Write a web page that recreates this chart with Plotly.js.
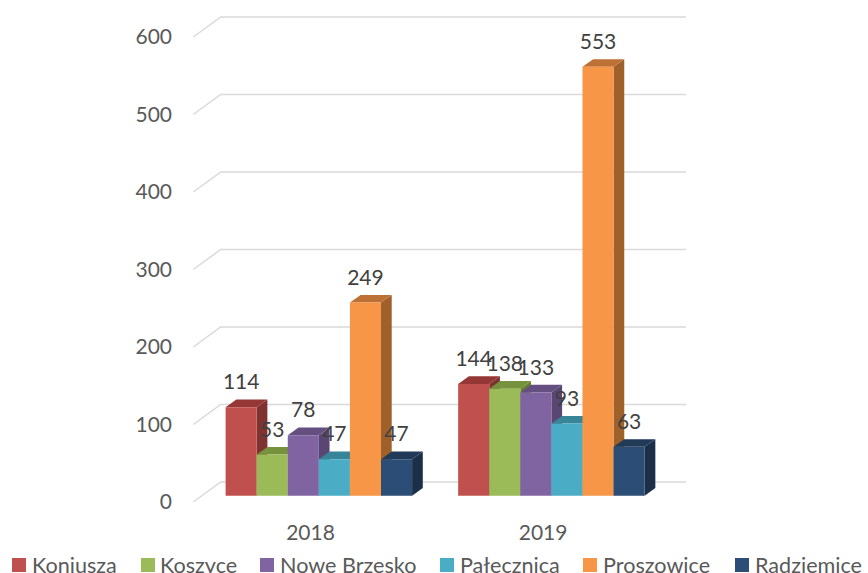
<!DOCTYPE html>
<html><head><meta charset="utf-8">
<script src="https://cdn.plot.ly/plotly-3.0.1.min.js"></script>
<style>html,body{margin:0;padding:0;background:#fff}#c{width:868px;height:573px}</style></head>
<body><div id="c"></div>
<script>
const years = ['2018', '2019'];
const gminy = ['Koniusza', 'Koszyce', 'Nowe Brzesko', 'Pałecznica', 'Proszowice', 'Radziemice'];
const koniusza = [114, 144];
const koszyce = [53, 138];
const noweBrzesko = [78, 133];
const palecznica = [47, 93];
const proszowice = [249, 553];
const radziemice = [47, 63];
const seriesValues = [koniusza, koszyce, noweBrzesko, palecznica, proszowice, radziemice];
const yTicks = [0, 100, 200, 300, 400, 500, 600];
const frontColors = ['#C0504D', '#9BBB59', '#8064A2', '#4BACC6', '#F79646', '#2C4D75'];
const topColors = ['#953735', '#76923C', '#644F80', '#388498', '#BD7134', '#213A58'];
const sideColors = ['#7F3330', '#667F33', '#5A4673', '#2F7286', '#A0602A', '#1B2F48'];
const legendSwatchLeft = [12, 141, 260, 440, 583, 735];
const legendTextLeft = [31, 159, 279, 459, 602, 754];

// plot box in page pixels
const W = 868, H = 573, L = 178, R = 700, T = 0, B = 515;
const FONT = 'Lato', FS = 21, LEGEND_FS = 21.6;
const groupStep = 232.55, x0Px = 318.85;
const unitBar = 0.7755, baseBar = 495.7;    // bar plane
const unitWall = 0.775, baseWall = 502.0;   // front edge of the side wall
const px = v => v / groupStep;
const barW = px(31.08), depthX = px(10.7), depthY = 7.7 / unitBar;
const labelLift = 23.2 / unitBar;
const wallFrontX = px(193.3 - x0Px), wallBackX = px(220.7 - x0Px), wallRightX = px(686 - x0Px);
const wallRise = 20 / unitWall;
const labelShift = px(8.3);
const paperX = p => (p - L) / (R - L);
const paperY = p => (B - p) / (B - T);

const traces = [];
const gx = [], gy = [];
yTicks.forEach(t => { gx.push(wallFrontX, wallBackX, wallRightX, null); gy.push(t, t + wallRise, t + wallRise, null); });
traces.push({type:'scatter', mode:'lines', x:gx, y:gy, xaxis:'x', yaxis:'y', line:{color:'#D9D9D9', width:1.5},
  showlegend:false, hoverinfo:'skip', zorder:0});

seriesValues.forEach((vals, s) => {
  const tx = [], ty = [], sx = [], sy = [];
  vals.forEach((v, c) => {
    const a = c + (s - 3) * barW, b = a + barW;
    tx.push(a, b, b + depthX, a + depthX, a, null);
    ty.push(v, v, v + depthY, v + depthY, v, null);
    sx.push(b, b + depthX, b + depthX, b, b, null);
    sy.push(0, depthY, v + depthY, v, 0, null);
  });
  traces.push({type:'scatter', mode:'lines', x:sx, y:sy, yaxis:'y2', fill:'toself', fillcolor:sideColors[s],
    line:{width:0, color:sideColors[s]}, showlegend:false, hoverinfo:'skip', zorder:1 + s * 2});
  traces.push({type:'scatter', mode:'lines', x:tx, y:ty, yaxis:'y2', fill:'toself', fillcolor:topColors[s],
    line:{width:0, color:topColors[s]}, showlegend:false, hoverinfo:'skip', zorder:1 + s * 2});
  traces.push({type:'bar', name:gminy[s], x:years.map((_, c) => c), y:vals, yaxis:'y2', width:barW, offset:(s - 3) * barW,
    marker:{color:frontColors[s], line:{width:0}}, showlegend:false, zorder:2 + s * 2});
});
const lx = [], ly = [], lt = [];
seriesValues.forEach((vals, s) => vals.forEach((v, c) => {
  lx.push(c + (s - 2.5) * barW); ly.push(v + labelLift); lt.push(String(v));
}));
traces.push({type:'scatter', mode:'text', x:lx, y:ly, text:lt, yaxis:'y2', textposition:'middle center',
  textfont:{family:FONT, size:FS, color:'#404040'}, showlegend:false, hoverinfo:'skip', zorder:50});

const shapes = gminy.map((_, s) => ({type:'rect', xref:'paper', yref:'paper', layer:'above',
  x0:paperX(legendSwatchLeft[s]), x1:paperX(legendSwatchLeft[s] + 14), y0:paperY(572), y1:paperY(558),
  fillcolor:frontColors[s], line:{width:0}}));
const annotations = gminy.map((name, s) => ({xref:'paper', yref:'paper', x:paperX(legendTextLeft[s]), y:paperY(564.5),
  xanchor:'left', yanchor:'middle', showarrow:false, text:name, borderpad:0, font:{family:FONT, size:LEGEND_FS, color:'#595959'}}));

const layout = {
  width:W, height:H, paper_bgcolor:'#fff', plot_bgcolor:'rgba(0,0,0,0)', showlegend:false, barmode:'overlay',
  font:{family:FONT, size:FS, color:'#595959'},
  margin:{l:L, r:W - R, t:T, b:H - B, pad:0},
  shapes, annotations,
  xaxis:{type:'linear', range:[px(L - x0Px), px(R - x0Px)], tickmode:'array', tickvals:years.map((_, c) => c - labelShift), ticktext:years,
    showgrid:false, zeroline:false, showline:false, ticks:'', fixedrange:true, automargin:false, ticklabelstandoff:3, tickfont:{size:FS, color:'#595959'}},
  yaxis:{range:[(baseWall - B) / unitWall, (baseWall - T) / unitWall], tickmode:'array', tickvals:yTicks, ticktext:yTicks.map(String),
    showgrid:false, zeroline:false, showline:false, ticks:'', fixedrange:true, automargin:false, ticklabelstandoff:5, tickfont:{size:FS, color:'#595959'}},
  yaxis2:{overlaying:'y', side:'left', range:[(baseBar - B) / unitBar, (baseBar - T) / unitBar], showgrid:false, zeroline:false,
    showline:false, showticklabels:false, ticks:'', fixedrange:true}
};
Plotly.newPlot('c', traces, layout, {displayModeBar:false, staticPlot:true});
</script></body></html>
